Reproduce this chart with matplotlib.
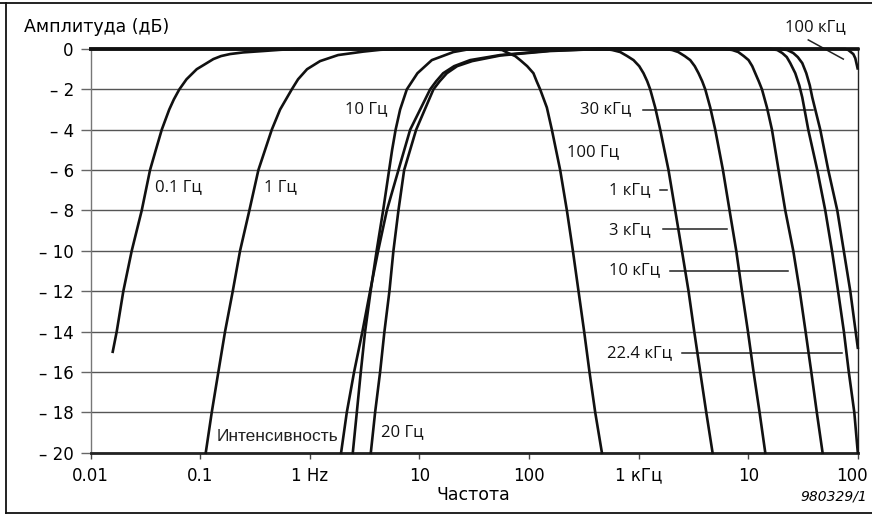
import matplotlib
matplotlib.use("Agg")
import matplotlib.pyplot as plt
from matplotlib.lines import Line2D
from matplotlib.transforms import ScaledTranslation

plt.rcParams['font.family'] = ['Open Sans', 'DejaVu Sans']

# ---- curve data: frequency (Hz) and level (dB) ----
# high-pass filters
f_01hz = [0.01595, 0.01734, 0.01992, 0.02376, 0.02932, 0.0349, 0.03943, 0.04463, 0.05224,
          0.05754, 0.0646, 0.0751, 0.0931, 0.1109, 0.1319, 0.1551, 0.1874, 0.2462, 0.3772,
          0.5358, 0.761, 1e5]
db_01hz = [-15, -14, -12, -10, -8, -6, -5, -4, -3, -2.5, -2, -1.5, -1, -0.75, -0.5, -0.35,
           -0.25, -0.17, -0.1, -0.04, 0, 0]

f_1hz = [0.1125, 0.1276, 0.1466, 0.1687, 0.1983, 0.2312, 0.2811, 0.3396, 0.4499, 0.5358,
         0.6852, 0.7818, 0.9447, 1.241, 1.812, 3.064, 4.38, 6.26, 1e5]
db_1hz = [-20, -18, -16, -14, -12, -10, -8, -6, -4, -3, -2, -1.5, -1, -0.6, -0.3, -0.13,
          -0.04, 0, 0]

f_10hz = [2.468, 2.685, 2.919, 3.195, 3.587, 4.07, 4.665, 5.29, 5.635, 6.064, 6.667, 7.674,
          9.59, 12.97, 20.42, 29.01, 1e5]
db_10hz = [-20, -18, -16, -14, -12, -10, -8, -6, -5, -4, -3, -2, -1.2, -0.55, -0.15, 0, 0]

f_int = [1.93, 2.176, 2.536, 3.02, 3.549, 4.201, 5.042, 6.434, 8.228, 12.52, 14.21, 16.46,
         20.73, 29.01, 54.5, 155.8, 445.4, 1e5]
db_int = [-20, -18, -16, -14, -12, -10, -8, -6, -4, -2, -1.6, -1.2, -0.85, -0.55, -0.3,
          -0.08, 0, 0]

f_20hz = [3.603, 3.943, 4.38, 4.794, 5.325, 5.791, 6.434, 7.253, 9.331, 13.42, 15.29, 17.78,
          22.08, 30.26, 55.0, 156.0, 445.0, 1e5]
db_20hz = [-20, -18, -16, -14, -12, -10, -8, -6, -4, -2, -1.6, -1.2, -0.85, -0.6, -0.32,
           -0.1, 0, 0]

# low-pass filters
f_100hz = [0.01, 44.2, 56.85, 64.5, 74.68, 83.0, 96.1, 109.6, 117.3, 126.2, 145.3, 161.4,
           192.2, 221.3, 251.0, 282.5, 318.0, 355.6, 401.0, 461.6]
db_100hz = [0, 0, -0.05, -0.2, -0.35, -0.55, -0.85, -1.2, -1.6, -2, -2.9, -4, -6, -8, -10,
            -12, -14, -16, -18, -20]

f_1khz = [0.01, 494.7, 573.2, 678.1, 785.2, 896.5, 1011, 1106, 1196, 1273, 1414, 1571,
          1870, 2153, 2479, 2848, 3210, 3640, 4130, 4716]
db_1khz = [0, 0, -0.05, -0.15, -0.35, -0.55, -0.85, -1.2, -1.6, -2, -2.9, -4, -6, -8, -10,
           -12, -14, -16, -18, -20]

f_3khz = [0.01, 1745, 2021, 2293, 2628, 2950, 3243, 3512, 3796, 4045, 4492, 4989, 5865,
          6740, 7757, 8744, 9917, 11155, 12655, 14265]
db_3khz = [0, 0, -0.05, -0.15, -0.35, -0.55, -0.85, -1.2, -1.6, -2, -2.9, -4, -6, -8, -10,
           -12, -14, -16, -18, -20]

f_10khz = [0.01, 6156, 7132, 8088, 9078, 10041, 10850, 11561, 12440, 13310, 14783, 16420,
           18860, 21715, 25690, 29440, 33260, 37490, 42090, 47530]
db_10khz = [0, 0, -0.05, -0.15, -0.35, -0.55, -0.85, -1.2, -1.6, -2, -2.9, -4, -6, -8, -10,
            -12, -14, -16, -18, -20]

f_22khz = [0.01, 15843, 18360, 20390, 22410, 24120, 26790, 29140, 31030, 35200, 42540,
           50300, 57910, 65830, 74350, 82410, 92520, 99580]
db_22khz = [0, 0, -0.05, -0.2, -0.4, -0.7, -1.2, -1.8, -2.4, -4, -6, -8, -10, -12, -14,
            -16, -18, -20]

f_30khz = [0.01, 19550, 22640, 25690, 28230, 31030, 33760, 36330, 38280, 45290, 53580,
           64740, 74200, 85060, 99580]
db_30khz = [0, 0, -0.05, -0.2, -0.4, -0.7, -1.2, -1.8, -2.4, -4, -6, -8, -10, -12, -14.8]

f_100khz = [0.01, 76590, 81540, 90600, 94500, 99170]
db_100khz = [0, 0, -0.05, -0.25, -0.46, -0.96]

x_ticks = [0.01, 0.1, 1, 10, 100, 1e3, 1e4, 1e5]
x_ticklabels = ['0.01', '0.1', '1 Hz', '10', '100', '1 кГц', '10', '100']
y_ticks = list(range(-20, 1, 2))
y_ticklabels = ['0' if v == 0 else '\u2013 %d' % -v for v in y_ticks]

curves = [(f_01hz, db_01hz), (f_1hz, db_1hz), (f_10hz, db_10hz), (f_int, db_int),
          (f_20hz, db_20hz), (f_100hz, db_100hz), (f_1khz, db_1khz), (f_3khz, db_3khz),
          (f_10khz, db_10khz), (f_22khz, db_22khz), (f_30khz, db_30khz),
          (f_100khz, db_100khz)]

fig = plt.figure(figsize=(8.72, 5.15), dpi=100)
ax = fig.add_axes([90.5 / 872, 1 - 452.7 / 515, (858 - 90.5) / 872, (452.7 - 49) / 515])

for f, db in curves:
    ax.plot(f, db, color='#111111', lw=1.9, solid_joinstyle='round', clip_on=False, zorder=3)

ax.set_xscale('log')
ax.set_xlim(0.01, 1e5)
ax.set_ylim(-20, 0)
ax.set_xticks(x_ticks)
ax.set_xticklabels(x_ticklabels, family='DejaVu Sans')
ax.minorticks_off()
ax.set_yticks(y_ticks)
ax.set_yticklabels(y_ticklabels, family='DejaVu Sans')
ax.tick_params(axis='y', direction='out', length=7, width=1, color='#666666', pad=5, labelsize=12)
ax.tick_params(axis='x', direction='out', length=4, width=1, color='#444444', pad=6, labelsize=12)
ax.yaxis.grid(True, color='#555555', lw=1.0)
ax.set_axisbelow(True)

# last x label sits a little left of its tick so it stays inside the frame
last = ax.get_xticklabels()[-1]
last.set_transform(last.get_transform() + ScaledTranslation(-0.06, 0, fig.dpi_scale_trans))

ax.spines['bottom'].set_linewidth(2.0)
ax.spines['bottom'].set_color('#222222')
ax.spines['top'].set_linewidth(1.5)
ax.spines['top'].set_color('#111111')
ax.spines['left'].set_linewidth(1.0)
ax.spines['left'].set_color('#777777')
ax.spines['right'].set_linewidth(1.0)
ax.spines['right'].set_color('#222222')

# curve labels
lab = dict(fontsize=12, va='center', ha='left', color='#111111')
ax.text(0.0388, -6.85, '0.1 Гц', **lab)
ax.text(0.383, -6.85, '1 Гц', **lab)
ax.text(2.10, -3.0, '10 Гц', **lab)
ax.text(4.47, -19.0, '20 Гц', **lab)
ax.text(0.1426, -19.2, 'Интенсивность', fontsize=12.5, va='center', ha='left', color='#222222',
        family=['Liberation Sans Narrow', 'Liberation Sans'])
ax.text(222.6, -5.1, '100 Гц', **lab)
ax.text(292.6, -3.0, '30 кГц', **lab)
ax.text(538, -7.0, '1 кГц', **lab)
ax.text(538, -8.95, '3 кГц', **lab)
ax.text(538, -10.95, '10 кГц', **lab)
ax.text(516, -15.05, '22.4 кГц', **lab)
ax.text(76590, 1.09, '100 кГц', fontsize=12, va='center', ha='right', color='#111111', clip_on=False)

# pointer lines
pk = dict(color='#222222', lw=1.1, clip_on=False, zorder=2)
ax.plot([1092, 39100], [-3.0, -3.0], **pk)
ax.plot([1571, 1820], [-7.0, -7.0], **pk)
ax.plot([1673, 6420], [-8.92, -8.92], **pk)
ax.plot([1938, 23130], [-11.0, -11.0], **pk)
ax.plot([2494, 71920], [-15.05, -15.05], **pk)
ax.plot([35200, 73440], [0.45, -0.5], **pk)

fig.text(24 / 872, 1 - 27 / 515, 'Амплитуда (дБ)', fontsize=12.5, ha='left', va='center',
         family='DejaVu Sans')
fig.text(473 / 872, 1 - 495 / 515, 'Частота', fontsize=12.5, ha='center', va='center',
         family='DejaVu Sans')
fig.text(867 / 872, 1 - 497 / 515, '980329/1', fontsize=10, ha='right', va='center',
         style='italic', family='DejaVu Sans')

# frame around the picture
fig.add_artist(Line2D([0, 1], [1 - 3 / 515] * 2, color='#111111', lw=1.3, transform=fig.transFigure))
fig.add_artist(Line2D([6 / 872, 1], [1 - 513 / 515] * 2, color='#111111', lw=1.3, transform=fig.transFigure))
fig.add_artist(Line2D([6 / 872] * 2, [1 - 3 / 515, 1 - 513 / 515], color='#111111', lw=1.3,
                      transform=fig.transFigure))

fig.savefig('out.png', dpi=100)
